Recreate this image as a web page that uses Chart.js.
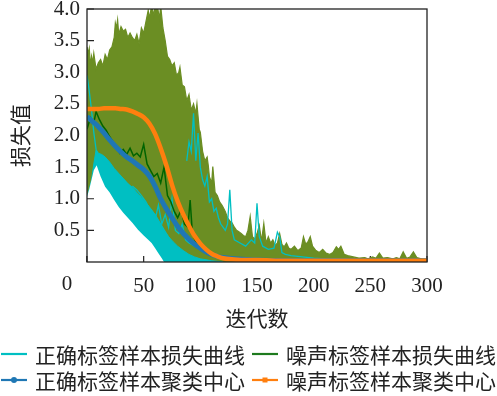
<!DOCTYPE html>
<html lang="zh">
<head>
<meta charset="UTF-8">
<title>损失曲线</title>
<script src="https://cdn.jsdelivr.net/npm/chart.js"></script>
<style>
  html, body { margin: 0; padding: 0; background: #fff; }
</style>
</head>
<body>
<canvas id="lossChart" width="497" height="396"></canvas>
<script>
// ---- values ----
const xTicks = [0, 50, 100, 150, 200, 250, 300];
const yTicks = [0.5, 1.0, 1.5, 2.0, 2.5, 3.0, 3.5, 4.0];
const seriesNames = ['正确标签样本损失曲线', '噪声标签样本损失曲线', '正确标签样本聚类中心', '噪声标签样本聚类中心'];

// upper edge of the bundle of noisy-label loss curves
const noisyTopX = [0,1,2,3,4,5,6,8,10,12,14,16,18,20,22,24,25,26,27,28,30,32,34,36,38,40,42,44,46,48,50,52,54,55,57,59,60,62,64,65,67,69,71,73,75,77,79,81,82,84,86,88,90,92,94,96,97,99,
  100,102,104,106,107,108,110,111,113,115,117,119,120,122,124,126,128,130,132,134,136,138,140,142,144,146,148,150,152,154,156,158,160,162,164,166,168,170,172,174,176,178,180,183,186,189,191,193,195,197,199,
  202,205,208,211,214,217,220,222,224,227,230,235,240,245,248,252,255,258,261,265,270,273,276,279,282,285,288,291,295,300];
const noisyTopY = [3.40,3.30,3.38,3.10,3.25,3.15,3.30,3.05,3.15,3.20,3.10,3.28,3.20,3.35,3.40,3.55,3.78,3.70,3.83,3.60,3.72,3.65,3.68,3.55,3.62,3.55,3.50,3.60,3.45,3.70,3.62,3.80,3.98,3.85,4.05,3.90,4.05,4.05,3.85,4.05,3.70,3.50,3.25,3.20,3.10,3.15,2.95,3.00,3.08,2.80,2.77,2.55,2.65,2.40,2.50,2.35,2.50,2.10,
  2.05,1.75,1.60,1.66,1.53,1.35,1.25,1.51,1.10,1.05,0.95,0.90,0.87,0.80,0.70,0.65,0.62,0.55,0.50,0.48,0.45,0.42,0.40,0.50,0.72,0.40,0.36,0.45,0.58,0.33,0.61,0.30,0.40,0.30,0.35,0.26,0.30,0.45,0.28,0.24,0.30,0.22,0.20,0.25,0.18,0.22,0.40,0.28,0.32,0.40,0.25,
  0.18,0.15,0.20,0.14,0.12,0.15,0.24,0.20,0.25,0.12,0.10,0.08,0.06,0.07,0.05,0.08,0.06,0.14,0.06,0.07,0.05,0.07,0.05,0.16,0.06,0.08,0.16,0.07,0.05,0.04];

// empty (white) pocket under the correct-label curves
const gapTopX = [0,2,4,6,8.5,12,16,20,24,28,32,36,40,45,50,54,57,60,63,66,68];
const gapTopY = [1.03,1.15,1.30,1.45,1.53,1.35,1.19,1.10,0.98,0.87,0.78,0.70,0.62,0.51,0.42,0.35,0.30,0.22,0.14,0.06,0];

// upper edge of the bundle of correct-label loss curves
const cleanTopX = [0,2,4,6,8,10,13,16,20,24,28,32,36,40,44,48,52,56,60,64,68,72,76,80,85,90,95,100,110,120];
const cleanTopY = [1.03,1.15,1.30,1.55,1.77,1.72,1.70,1.66,1.58,1.48,1.40,1.32,1.24,1.18,1.10,1.02,0.94,0.85,0.75,0.62,0.50,0.40,0.32,0.25,0.18,0.12,0.08,0.05,0.02,0];

// a few single correct-label curves that stand out
const cleanAX = [0,2,4,6,8,10,14,18,22,26,30,35,40,45,50,55,60,65,70,75];
const cleanAY = [2.95,2.70,2.40,2.05,1.78,1.70,1.62,1.55,1.48,1.42,1.35,1.25,1.15,1.05,0.95,0.85,0.75,0.60,0.45,0.30];
const cleanBX = [40,44,48,52,56,60,63,66,69,72,75,78,81,84,87,90,95,100,105,110,115,120];
const cleanBY = [1.20,1.14,1.05,0.95,0.80,0.66,0.90,0.60,0.75,0.55,1.00,0.50,0.45,0.60,0.35,0.30,0.25,0.22,0.15,0.10,0.06,0.04];
const cleanCX = [88,90,92,94,96,98,100,102,104,106,108,110,112,114,116,118,120,122,124,126,128,130,135,140,145,148,150,152,155,160,165,168,170,172,175,180,190,200,210,220,230];
const cleanCY = [1.60,1.90,1.75,2.35,1.60,2.04,1.50,1.30,1.20,1.35,0.95,1.00,0.80,0.85,0.70,0.60,0.55,0.50,0.60,1.14,0.50,0.35,0.30,0.25,0.35,0.30,0.93,0.40,0.25,0.20,0.22,0.47,0.40,0.15,0.12,0.10,0.08,0.06,0.05,0.05,0.04];

// one noisy-label curve in dark green
const darkX = [0,3,6,8,11,14,17,20,23,26,29,32,35,38,41,44,47,50,53,56,59,62,65,68,71,74,77,80,83,86,89,91,93,96,100,105,110,120,140,300];
const darkY = [2.10,2.28,2.20,2.38,2.25,2.15,2.08,1.98,1.90,1.80,1.72,1.78,1.70,1.80,1.68,1.72,1.66,1.86,1.55,1.45,1.35,1.40,1.25,1.50,1.05,0.95,0.80,0.70,0.82,0.60,0.55,0.98,0.45,0.32,0.22,0.14,0.10,0.06,0.03,0.02];

// cluster centres
const centreX = [0,5,10,15,20,25,30,35,40,45,50,55,60,65,70,75,80,85,90,95,100,105,110,115,120,130,140,150,175,200,250,300];
const cleanCentre = [2.30,2.22,2.14,2.04,1.93,1.83,1.74,1.66,1.60,1.53,1.46,1.36,1.20,1.00,0.84,0.70,0.56,0.45,0.36,0.28,0.22,0.16,0.12,0.09,0.07,0.05,0.04,0.03,0.02,0.02,0.02,0.02];
const noisyCentre = [2.42,2.42,2.42,2.43,2.43,2.43,2.42,2.41,2.38,2.34,2.29,2.19,2.03,1.80,1.53,1.22,0.96,0.75,0.57,0.41,0.29,0.20,0.13,0.09,0.06,0.04,0.03,0.03,0.02,0.02,0.02,0.02];

const CYAN = '#00bfc2';
const OLIVE = '#6b8e23';
const DARK = '#006400';
const BLUE = '#1f77b4';
const ORANGE = '#ff7f0e';
const GAP_INDEX = 6;

const NUM_FONT = { family: '"Liberation Serif", "DejaVu Serif", serif', size: 21 };
const CJK_FONT = { family: '"Noto Sans CJK SC", sans-serif', size: 21 };

function pts(xs, ys) { return xs.map((x, i) => ({ x: x, y: ys[i] })); }

function lineSet(data, color, width, order, extra) {
    return Object.assign({
        data: data,
        borderColor: color,
        backgroundColor: color,
        borderWidth: width,
        pointRadius: 0,
        tension: 0,
        fill: false,
        order: order
    }, extra || {});
}

function drawTicks(chart, yMax, xMax) {
    const { ctx, chartArea: a, scales: { x, y } } = chart;
    ctx.save();
    ctx.strokeStyle = '#222';
    ctx.lineWidth = 1.2;
    ctx.beginPath();
    yTicks.filter(v => v < yMax).forEach(v => { const py = y.getPixelForValue(v); ctx.moveTo(a.left, py); ctx.lineTo(a.left + 7, py); });
    xTicks.filter(v => v < xMax).forEach(v => { const px = x.getPixelForValue(v); ctx.moveTo(px, a.bottom); ctx.lineTo(px, a.bottom - 6); });
    ctx.stroke();
    ctx.restore();
}

// inward tick marks: under the data, redrawn inside the white pocket
const tickMarks = {
    id: 'tickMarks',
    beforeDatasetsDraw(chart) { drawTicks(chart, Infinity, Infinity); },
    afterDatasetDraw(chart, args) {
        if (args.index === GAP_INDEX) drawTicks(chart, gapTopY[0], gapTopX[gapTopX.length - 1]);
    }
};

// frame, the lone "0" label and the legend
const decorations = {
    id: 'decorations',
    afterDatasetsDraw(chart) {
        const { ctx, chartArea: a } = chart;
        ctx.save();
        ctx.strokeStyle = '#222';
        ctx.lineWidth = 1.3;
        ctx.strokeRect(a.left, a.top, a.right - a.left, a.bottom - a.top);
        ctx.restore();
    },
    afterDraw(chart) {
        const ctx = chart.ctx;
        const xs = chart.scales.x;
        ctx.save();
        ctx.fillStyle = '#222';
        ctx.font = NUM_FONT.size + 'px ' + NUM_FONT.family;
        ctx.textAlign = 'center';
        ctx.textBaseline = 'top';
        ctx.fillText(String(xTicks[0]), 67, xs.top + 12);

        const colors = [CYAN, '#1e7a1e', BLUE, ORANGE];
        const cols = [0, 251];
        const rows = [354, 380];
        ctx.font = CJK_FONT.size + 'px ' + CJK_FONT.family;
        ctx.textAlign = 'left';
        ctx.textBaseline = 'middle';
        seriesNames.forEach((name, i) => {
            const x0 = cols[i % 2];
            const yy = rows[Math.floor(i / 2)];
            ctx.strokeStyle = colors[i];
            ctx.lineWidth = 2.2;
            ctx.beginPath();
            ctx.moveTo(x0 + 1, yy);
            ctx.lineTo(x0 + 27, yy);
            ctx.stroke();
            if (i === 2) {
                ctx.fillStyle = BLUE;
                ctx.beginPath();
                ctx.arc(x0 + 14, yy, 3, 0, Math.PI * 2);
                ctx.fill();
            } else if (i === 3) {
                ctx.fillStyle = ORANGE;
                ctx.fillRect(x0 + 11.5, yy - 2.5, 5, 5);
            }
            ctx.fillStyle = '#222';
            ctx.fillText(name, x0 + 35, yy + 1);
        });
        ctx.restore();
    }
};

const ctx = document.getElementById('lossChart').getContext('2d');
const lossChart = new Chart(ctx, {
    type: 'line',
    data: {
        datasets: [
            lineSet(pts(centreX, noisyCentre), ORANGE, 4.5, 0, { cubicInterpolationMode: 'monotone' }),
            lineSet(pts(centreX, cleanCentre), BLUE, 5, 1, { cubicInterpolationMode: 'monotone' }),
            lineSet(pts(darkX, darkY), DARK, 1.5, 2),
            lineSet(pts(cleanAX, cleanAY), CYAN, 1.3, 3),
            lineSet(pts(cleanBX, cleanBY), CYAN, 1.3, 3),
            lineSet(pts(cleanCX, cleanCY), CYAN, 1.3, 3),
            lineSet(pts(gapTopX, gapTopY), '#ffffff', 0, 4, { fill: 'origin' }),
            lineSet(pts(cleanTopX, cleanTopY), CYAN, 1, 5, { fill: 'origin' }),
            lineSet(pts(noisyTopX, noisyTopY), OLIVE, 1.2, 6, { fill: 'origin' })
        ]
    },
    options: {
        responsive: false,
        animation: false,
        events: [],
        layout: { padding: { top: 9, right: 70, bottom: 64, left: 0 } },
        plugins: {
            legend: { display: false },
            tooltip: { enabled: false }
        },
        scales: {
            x: {
                type: 'linear',
                min: 0,
                max: 300,
                afterBuildTicks: s => { s.ticks = xTicks.map(v => ({ value: v })); },
                afterFit: s => { s.height = 70; s.paddingLeft = 0; s.paddingRight = 0; },
                grid: { display: false, drawTicks: false },
                border: { display: false },
                ticks: {
                    font: NUM_FONT,
                    color: '#222',
                    padding: 12,
                    maxRotation: 0,
                    callback: v => (v === 0 ? '' : String(v))
                },
                title: { display: true, text: '迭代数', font: CJK_FONT, color: '#222', padding: { top: 0, bottom: 1 } }
            },
            y: {
                min: 0,
                max: 4,
                afterBuildTicks: s => { s.ticks = yTicks.map(v => ({ value: v })); },
                afterFit: s => { s.width = 87; s.paddingTop = 0; s.paddingBottom = 0; },
                grid: { display: false, drawTicks: false },
                border: { display: false },
                ticks: {
                    font: NUM_FONT,
                    color: '#222',
                    padding: 7,
                    callback: v => Number(v).toFixed(1)
                },
                title: { display: true, text: '损失值', font: CJK_FONT, color: '#222', padding: { top: 7, bottom: 0 } }
            }
        }
    },
    plugins: [tickMarks, decorations]
});
</script>
</body>
</html>
